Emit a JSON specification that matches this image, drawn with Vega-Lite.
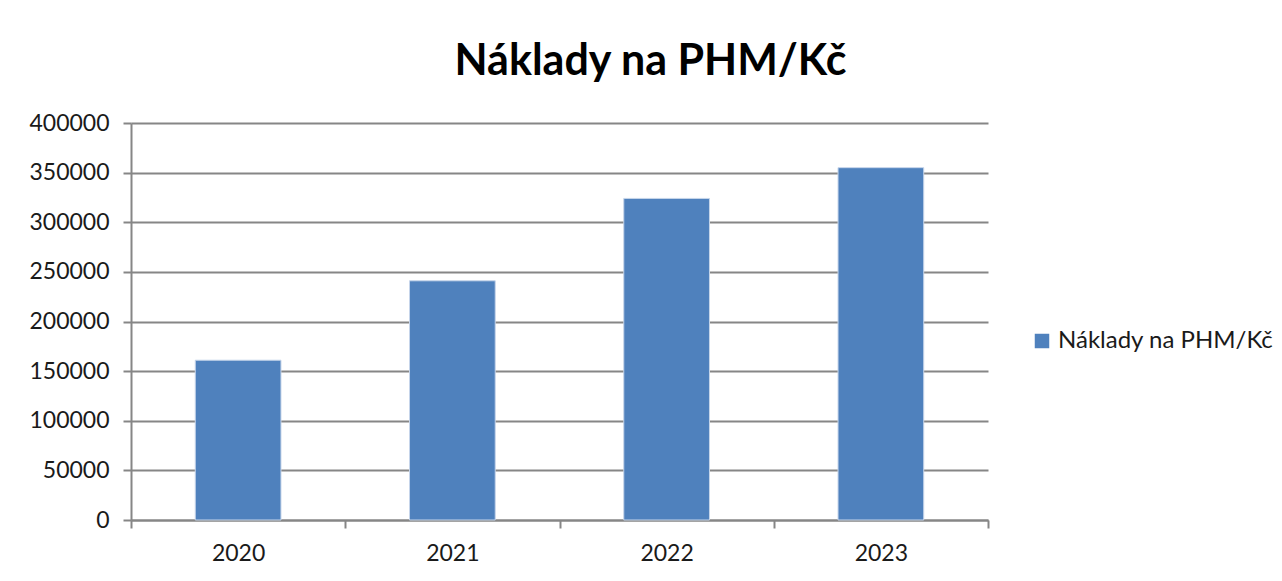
{
  "$schema": "https://vega.github.io/schema/vega-lite/v6.json",
  "autosize": {"type": "none"},
  "padding": {"left": 131, "top": 123, "right": 294, "bottom": 61},
  "width": 857,
  "height": 397,
  "background": "white",
  "title": {
    "text": "Náklady na PHM/Kč",
    "font": "Lato",
    "fontSize": 43,
    "fontWeight": "bold",
    "color": "#000000",
    "anchor": "middle",
    "dx": 91,
    "dy": 54,
    "baseline": "alphabetic",
    "offset": 48
  },
  "data": {
    "values": [
      {"rok": "2020", "naklady": 161000, "serie": "Náklady na PHM/Kč"},
      {"rok": "2021", "naklady": 241000, "serie": "Náklady na PHM/Kč"},
      {"rok": "2022", "naklady": 324000, "serie": "Náklady na PHM/Kč"},
      {"rok": "2023", "naklady": 355000, "serie": "Náklady na PHM/Kč"}
    ]
  },
  "mark": {"type": "bar", "stroke": "#c6d5ea", "strokeWidth": 1, "width": {"band": 0.4}},
  "encoding": {
    "x": {
      "field": "rok",
      "type": "nominal",
      "title": null,
      "scale": {"paddingInner": 0, "paddingOuter": 0},
      "axis": {
        "labelAngle": 0,
        "tickBand": "extent",
        "labelFont": "Lato",
        "labelFontSize": 23,
        "labelColor": "#1a1a1a",
        "labelPadding": 14,
        "domainColor": "#868686",
        "domainWidth": 2,
        "tickColor": "#868686",
        "tickWidth": 2,
        "tickSize": 8,
        "grid": false
      }
    },
    "y": {
      "field": "naklady",
      "type": "quantitative",
      "title": null,
      "scale": {"domain": [0, 400000], "nice": false},
      "axis": {
        "values": [0, 50000, 100000, 150000, 200000, 250000, 300000, 350000, 400000],
        "format": "d",
        "labelFont": "Lato",
        "labelFontSize": 23,
        "labelColor": "#1a1a1a",
        "labelPadding": 14,
        "domainColor": "#868686",
        "domainWidth": 2,
        "tickColor": "#868686",
        "tickWidth": 2,
        "tickSize": 8,
        "grid": true,
        "gridColor": "#868686",
        "gridWidth": 2
      }
    },
    "color": {
      "field": "serie",
      "type": "nominal",
      "scale": {"range": ["#4f81bd"]},
      "legend": {
        "title": null,
        "orient": "none",
        "legendX": 899,
        "legendY": 206,
        "symbolType": "square",
        "symbolSize": 210,
        "symbolStrokeWidth": 0,
        "labelFont": "Lato",
        "labelFontSize": 24,
        "labelColor": "#1a1a1a",
        "labelLimit": 400,
        "labelOffset": 4
      }
    }
  },
  "config": {
    "view": {"stroke": null}
  }
}
